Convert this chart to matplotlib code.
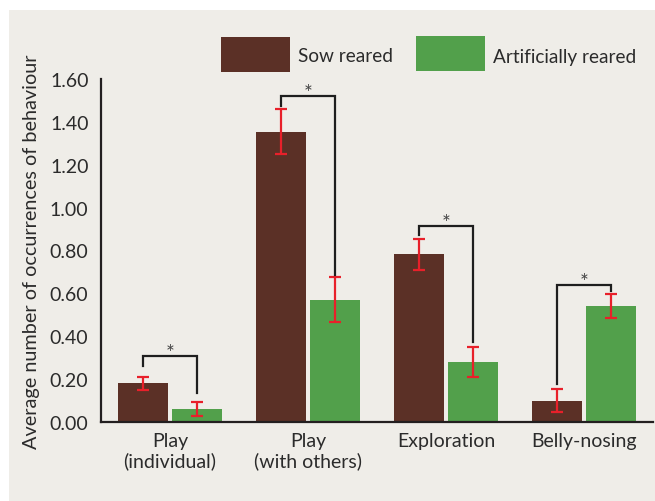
import numpy as np
import matplotlib
matplotlib.use('Agg')
import matplotlib.pyplot as plt
from matplotlib.patches import Rectangle

plt.rcParams['font.family'] = ['Lato', 'DejaVu Sans']

# data
categories = ['Play\n(individual)', 'Play\n(with others)', 'Exploration', 'Belly-nosing']
sow = [0.182, 1.353, 0.784, 0.098]
sow_lo = [0.151, 1.25, 0.709, 0.045]
sow_hi = [0.21, 1.46, 0.854, 0.155]
art = [0.061, 0.569, 0.280, 0.541]
art_lo = [0.027, 0.466, 0.208, 0.487]
art_hi = [0.092, 0.676, 0.351, 0.596]
# significance brackets: top, left leg bottom, right leg bottom
brk_top = [0.306, 1.52, 0.914, 0.639]
brk_left = [0.261, 1.474, 0.872, 0.177]
brk_right = [0.135, 0.686, 0.373, 0.612]
yticks = [0.0, 0.2, 0.4, 0.6, 0.8, 1.0, 1.2, 1.4, 1.6]

brown = '#5b3026'
green = '#52a04b'
red = '#e8202a'
txt = '#2b2b2b'
bg = '#efede8'

fig = plt.figure(figsize=(6.55, 5.02), dpi=100)
fig.patch.set_facecolor('white')

# grey panel behind everything
bgax = fig.add_axes([9 / 655, 0, 1 - 9 / 655, 491 / 502], zorder=0)
bgax.axis('off')
bgax.add_patch(Rectangle((0, 0), 1, 1, transform=bgax.transAxes, facecolor=bg, edgecolor='none'))

ax = fig.add_axes([101 / 655, 79 / 502, 552 / 655, 343 / 502], zorder=2)
ax.set_facecolor('none')

x = np.arange(len(categories))
w = 0.362
off = 0.199
ax.bar(x - off, sow, w, color=brown, zorder=2)
ax.bar(x + off, art, w, color=green, zorder=2)

sow_err = [np.array(sow) - np.array(sow_lo), np.array(sow_hi) - np.array(sow)]
art_err = [np.array(art) - np.array(art_lo), np.array(art_hi) - np.array(art)]
ax.errorbar(x - off, sow, yerr=sow_err, fmt='none', ecolor=red, elinewidth=1.6,
            capsize=4, capthick=1.6, zorder=3)
ax.errorbar(x + off, art, yerr=art_err, fmt='none', ecolor=red, elinewidth=1.6,
            capsize=4, capthick=1.6, zorder=3)

for i in range(len(categories)):
    xl, xr = x[i] - off, x[i] + off
    ax.plot([xl, xl, xr, xr], [brk_left[i], brk_top[i], brk_top[i], brk_right[i]],
            color='#1e1e1e', lw=1.6, solid_joinstyle='miter', zorder=3)
    ax.text(x[i], brk_top[i] - 0.012, '*', ha='center', va='baseline',
            fontsize=15, color='#444444')

ax.set_xlim(-0.5, 3.5)
ax.set_ylim(0, 1.6)
ax.set_yticks(yticks)
ax.set_yticklabels(['%.2f' % v for v in yticks])
ax.set_xticks(x)
ax.set_xticklabels(categories)
ax.tick_params(axis='both', length=0, labelsize=14, labelcolor=txt)
ax.tick_params(axis='y', pad=9)
ax.tick_params(axis='x', pad=7)
for s in ['top', 'right']:
    ax.spines[s].set_visible(False)
for s in ['left', 'bottom']:
    ax.spines[s].set_linewidth(1.6)
    ax.spines[s].set_color('#231f20')
ax.set_ylabel('Average number of occurrences of behaviour', fontsize=14.3,
              color=txt, labelpad=7)

# legend drawn as boxes + labels like the original
fig.patches.append(Rectangle((221 / 655, 1 - 73 / 502), 69 / 655, 35 / 502,
                             transform=fig.transFigure, facecolor=brown, edgecolor='none',
                             zorder=3))
fig.text(298 / 655, 1 - 57 / 502, 'Sow reared', fontsize=13.7, color=txt, va='center')
fig.patches.append(Rectangle((416 / 655, 1 - 72 / 502), 69 / 655, 35 / 502,
                             transform=fig.transFigure, facecolor=green, edgecolor='none',
                             zorder=3))
fig.text(493 / 655, 1 - 57 / 502, 'Artificially reared', fontsize=13.7, color=txt, va='center')

fig.savefig('out.png', dpi=100, facecolor=fig.get_facecolor())
